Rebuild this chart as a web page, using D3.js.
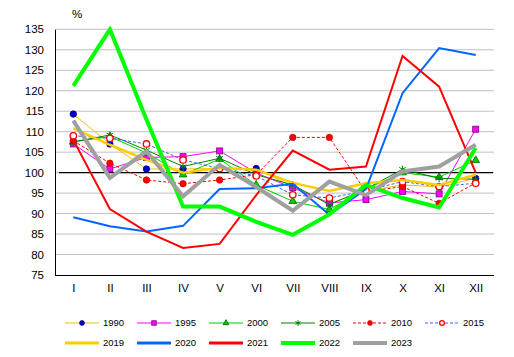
<!DOCTYPE html>
<html><head><meta charset="utf-8">
<script src="https://cdn.jsdelivr.net/npm/d3@7"></script>
<style>body{margin:0;background:#fff}svg{display:block}text{font-family:"Liberation Sans",Arial,sans-serif;fill:#000}</style>
</head><body><svg id="c" width="514" height="357"></svg>
<script>
const months = ["I","II","III","IV","V","VI","VII","VIII","IX","X","XI","XII"];
const yTicks = [75,80,85,90,95,100,105,110,115,120,125,130,135];
const v1990 = [114.3,107,100.9,100.9,101,101,96.6,92.5,95.5,97,96.5,98.6];
const v1995 = [107,100.9,103.7,103.9,105.3,99.9,96.3,92.6,93.4,95.4,94.8,110.6];
const v2000 = [107.5,108.8,104.8,99.5,103.3,97,93,91,96,100,98.9,103];
const v2005 = [107.5,109.2,105.5,101.5,103.5,99.5,97,92.2,96,100.8,98.6,98.4];
const v2010 = [107.8,102.3,98.2,97.3,98.2,99.5,108.6,108.6,95.3,96.6,92.5,97.5];
const v2015 = [109,108.4,107,103.1,101,99.2,94.6,93.8,95.6,97.8,96.6,97.4];
const v2019 = [110.8,106.8,103.1,100,101.2,100.7,97.5,95.5,97.4,98.2,97,99.5];
const v2020 = [89.1,86.9,85.6,87,96,96.2,97.3,89.7,96,119.4,130.4,128.7];
const v2021 = [108,91.1,85.6,81.6,82.6,94.5,105.4,100.7,101.5,128.5,121,100];
const v2022 = [121.2,135,113,91.7,91.7,88,84.8,89.8,97,93.8,91.5,106];
const v2023 = [112.7,98.7,105.2,94.2,101.9,96.5,90.7,97.8,94.5,100.3,101.5,106.8];

const series = [
  {name:"1990", values:v1990, color:"#f0c020", width:1, dash:null, marker:"dot", mfill:"#0000cc", mstroke:"#000080"},
  {name:"1995", values:v1995, color:"#ff00ff", width:1, dash:null, marker:"square", mfill:"#ff00ff", mstroke:"#800080"},
  {name:"2000", values:v2000, color:"#00cc00", width:1, dash:null, marker:"triangle", mfill:"#00cc00", mstroke:"#006400"},
  {name:"2005", values:v2005, color:"#008000", width:1, dash:null, marker:"asterisk", mfill:"none", mstroke:"#008000"},
  {name:"2010", values:v2010, color:"#ff0000", width:1, dash:"3,2", marker:"dot", mfill:"#ff0000", mstroke:"#cc0000"},
  {name:"2015", values:v2015, color:"#3366ff", width:1, dash:"3,2", marker:"circle", mfill:"#ffffff", mstroke:"#ff0000"},
  {name:"2019", values:v2019, color:"#ffcc00", width:2.5, dash:null, marker:null},
  {name:"2020", values:v2020, color:"#0066ff", width:2, dash:null, marker:null},
  {name:"2021", values:v2021, color:"#ff0000", width:2, dash:null, marker:null},
  {name:"2022", values:v2022, color:"#00ff00", width:4, dash:null, marker:null},
  {name:"2023", values:v2023, color:"#a0a0a0", width:4, dash:null, marker:null}
];

const svg = d3.select("#c");
const L = 55, R = 494, T = 29.3, B = 275;
const x = d3.scalePoint().domain(months).range([L, R]).padding(0.5);
const y = d3.scaleLinear().domain([75,135]).range([B, T]);

// gridlines
svg.append("g").selectAll("line").data(yTicks.filter(d=>d!==75)).join("line")
  .attr("x1", L).attr("x2", R).attr("y1", d=>y(d)).attr("y2", d=>y(d))
  .attr("stroke", "#c0c0c0").attr("stroke-width", 1);

// 100 reference line
svg.append("line").attr("x1", L+4).attr("x2", R-1).attr("y1", y(100)).attr("y2", y(100))
  .attr("stroke", "#000").attr("stroke-width", 1.2);

// axes
const yAxis = d3.axisLeft(y).tickValues(yTicks).tickSize(0).tickPadding(11);
const gy = svg.append("g").attr("transform", `translate(${L},0)`).call(yAxis);
gy.select(".domain").attr("stroke", "#000");
gy.selectAll("text").style("font-size", "11.5px").attr("font-family", "Liberation Sans, Arial, sans-serif");

const xAxis = d3.axisBottom(x).tickSize(0).tickPadding(9);
const gx = svg.append("g").attr("transform", `translate(0,${B})`).call(xAxis);
gx.select(".domain").attr("stroke", "#000").attr("d", `M${L},0.5H${R}`);
gx.selectAll("text").style("font-size", "11.5px").attr("font-family", "Liberation Sans, Arial, sans-serif");

svg.append("text").attr("x", 77).attr("y", 18).attr("text-anchor", "middle")
  .style("font-size", "11.5px").text("%");

const line = d3.line().x((d,i)=>x(months[i])).y(d=>y(d));

function drawMarker(g, s, cx, cy, scale) {
  scale = scale || 1;
  if (s.marker === "dot" || s.marker === "circle") {
    g.append("circle").attr("cx", cx).attr("cy", cy).attr("r", 3.2*scale)
      .attr("fill", s.mfill).attr("stroke", s.mstroke).attr("stroke-width", s.marker==="circle"?1.3:0.8);
  } else if (s.marker === "square") {
    g.append("rect").attr("x", cx-3*scale).attr("y", cy-3*scale).attr("width", 6*scale).attr("height", 6*scale)
      .attr("fill", s.mfill).attr("stroke", s.mstroke).attr("stroke-width", 0.8);
  } else if (s.marker === "triangle") {
    g.append("path").attr("transform", `translate(${cx},${cy})`)
      .attr("d", d3.symbol(d3.symbolTriangle, 26*scale*scale)())
      .attr("fill", s.mfill).attr("stroke", s.mstroke).attr("stroke-width", 0.8);
  } else if (s.marker === "asterisk") {
    g.append("path").attr("transform", `translate(${cx},${cy})`)
      .attr("d", d3.symbol(d3.symbolAsterisk, 40*scale*scale)())
      .attr("fill", "none").attr("stroke", s.mstroke).attr("stroke-width", 1);
  }
}

const clip = svg.append("clipPath").attr("id","pc").append("rect")
  .attr("x", L).attr("y", T-3).attr("width", R-L).attr("height", B-T+3);

series.forEach(s => {
  const g = svg.append("g").attr("clip-path", "url(#pc)");
  g.append("path").datum(s.values).attr("d", line)
    .attr("fill", "none").attr("stroke", s.color).attr("stroke-width", s.width)
    .attr("stroke-dasharray", s.dash).attr("stroke-linejoin", "miter").attr("stroke-linecap", "butt");
  if (s.marker) s.values.forEach((v,i) => drawMarker(g, s, x(months[i]), y(v)));
});

// legend
const leg = svg.append("g");
series.forEach((s, i) => {
  const row = i < 6 ? 0 : 1;
  const col = i < 6 ? i : i - 6;
  const lx = 65 + col*72, ly = row === 0 ? 323 : 343;
  leg.append("line").attr("x1", lx).attr("x2", lx+34).attr("y1", ly).attr("y2", ly)
    .attr("stroke", s.color).attr("stroke-width", s.width === 1 ? 1 : (s.width >= 4 ? 4 : 3))
    .attr("stroke-dasharray", s.dash);
  if (s.marker) drawMarker(leg, s, lx+17, ly, 0.75);
  leg.append("text").attr("x", lx+38).attr("y", ly).attr("dy", "0.35em")
    .style("font-size", "9.5px").text(s.name);
});
</script></body></html>
